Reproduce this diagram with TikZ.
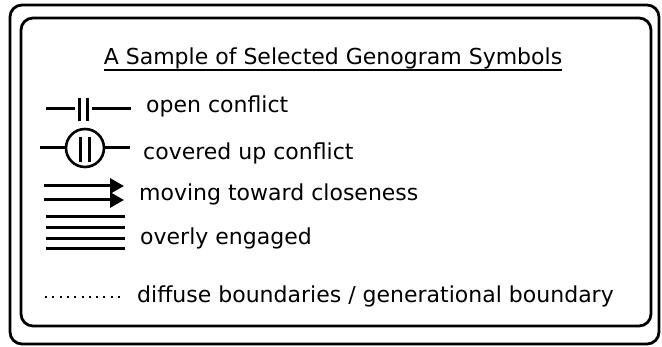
\documentclass[tikz,border=0pt]{standalone}
\usepackage{fontspec}
\setmainfont{DejaVu Sans}
\usetikzlibrary{arrows.meta}
\tikzset{
  frame/.style={line width=2.8pt, rounded corners=12pt},
  sym/.style={line width=3pt},
  lbl/.style={anchor=base west, inner sep=0pt, font=\fontsize{22}{26}\selectfont},
  ttl/.style={anchor=base, inner sep=0pt, font=\fontsize{22}{26}\selectfont},
  dotline/.style={line width=2.2pt, dash pattern=on 2pt off 5.3pt},
  arr/.style={-{Triangle[length=14pt,width=15pt]}, sym}
}
\begin{document}
\begin{tikzpicture}[x=1pt,y=-1pt]
\useasboundingbox (0,0) rectangle (662,347);
\fill[white] (0,0) rectangle (662,347);
% frames
\draw[frame] (10,5) rectangle (659,344);
\draw[frame] (21,18) rectangle (651,326);
% title
\node[ttl] (title) at (333,65) {A Sample of Selected Genogram Symbols};
\coordinate (ul1) at ([yshift=-5pt]title.base west);
\coordinate (ul2) at ([yshift=-5pt]title.base east);
\draw[line width=1.8pt] (ul1) -- (ul2);
% open conflict
\coordinate (oc1) at (46,109); \coordinate (oc2) at (75,109);
\coordinate (oc3) at (92,109); \coordinate (oc4) at (131,109);
\draw[sym] (oc1) -- (oc2);
\draw[sym] (oc3) -- (oc4);
\coordinate (ob1t) at (79,98); \coordinate (ob1b) at (79,121);
\coordinate (ob2t) at (87,98); \coordinate (ob2b) at (87,121);
\draw[sym] (ob1t) -- (ob1b);
\draw[sym] (ob2t) -- (ob2b);
\node[lbl] (t1) at (146,113) {open conflict};
% covered up conflict
\node[draw, circle, line width=2.6pt, minimum size=38pt, inner sep=0pt] (circ) at (85,148) {};
\coordinate (cl) at (40,148); \coordinate (cr) at (130,148);
\draw[sym] (cl) -- (circ.west);
\draw[sym] (circ.east) -- (cr);
\coordinate (cb1t) at (80,137); \coordinate (cb1b) at (80,162);
\coordinate (cb2t) at (89,137); \coordinate (cb2b) at (89,162);
\draw[sym] (cb1t) -- (cb1b);
\draw[sym] (cb2t) -- (cb2b);
\node[lbl] (t2) at (143,160) {covered up conflict};
% moving toward closeness
\coordinate (a1s) at (44,186); \coordinate (a1e) at (124,186);
\coordinate (a2s) at (44,200); \coordinate (a2e) at (124,200);
\draw[arr] (a1s) -- (a1e);
\draw[arr] (a2s) -- (a2e);
\node[lbl] (t3) at (139,201) {moving toward closeness};
% overly engaged
\foreach \yy/\nm in {217/e1,228/e2,239/e3,249/e4}{
  \coordinate (\nm s) at (46,\yy); \coordinate (\nm e) at (125,\yy);
  \draw[sym] (\nm s) -- (\nm e);
}
\node[lbl] (t4) at (140,245) {overly engaged};
% diffuse boundaries
\coordinate (d1) at (45,297); \coordinate (d2) at (125,297);
\draw[dotline] (d1) -- (d2);
\node[lbl] (t5) at (137,303) {diffuse boundaries / generational boundary};
\end{tikzpicture}
\end{document}
